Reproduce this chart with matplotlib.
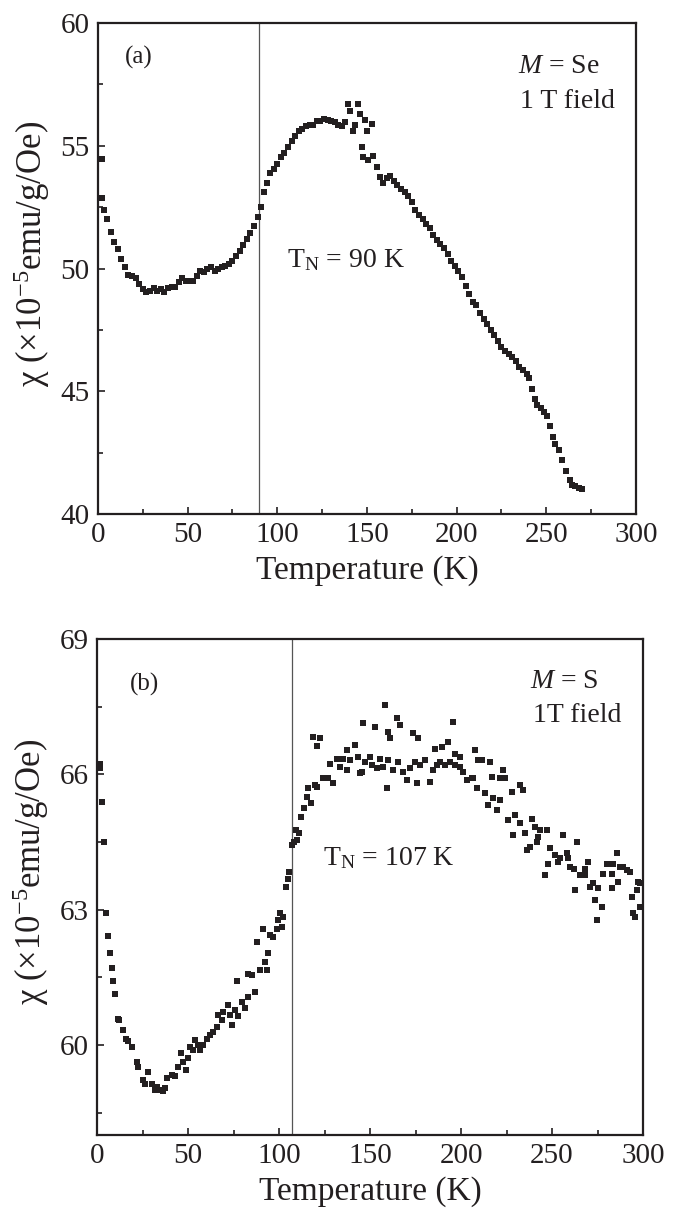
import matplotlib
matplotlib.use("Agg")
import matplotlib.pyplot as plt
from matplotlib.ticker import MultipleLocator

plt.rcParams['font.family'] = ['Liberation Serif', 'DejaVu Serif']
plt.rcParams['mathtext.fontset'] = 'custom'
plt.rcParams['mathtext.rm'] = 'Liberation Serif'
plt.rcParams['mathtext.it'] = 'Liberation Serif:italic'
plt.rcParams['mathtext.default'] = 'regular'

# panel (a): M = Se
temp_a = [2.0, 2.2, 3.5, 5, 7, 9, 11, 13, 15, 17, 19, 21, 23, 25, 27, 29, 31, 33, 35, 37,
          39, 41, 43, 45, 47, 49, 51, 53, 55, 57, 59, 61, 63, 65, 67, 69, 71, 73, 75, 77,
          79, 81, 83, 85, 87, 89, 91, 92.5, 94, 96, 98, 100, 102, 104, 106, 108, 110, 112,
          114, 116, 118, 120, 122, 124, 126, 128, 130, 132, 134, 136, 138, 139.5, 140.5,
          142, 143.5, 145, 146, 147, 148, 149, 150, 150.7, 152.6, 153.5, 155.4, 157.3, 159,
          161, 163, 165, 167, 169, 171, 173, 175, 177, 179, 181, 183, 185, 187, 189, 191,
          193, 195, 197, 199, 201, 203, 205, 207, 209, 211, 213, 215, 217, 219, 221, 223,
          225, 227, 229, 231, 233, 235, 237, 239, 240.5, 242, 243.5, 245, 247, 249, 250.5,
          252, 253.5, 255, 257, 259, 261, 263, 264.5, 266, 268, 270]
chi_a = [54.45, 52.87, 52.4, 52.0, 51.5, 51.1, 50.8, 50.4, 50.05, 49.75, 49.7, 49.6, 49.35,
         49.15, 49.05, 49.1, 49.2, 49.1, 49.15, 49.05, 49.2, 49.25, 49.25, 49.45, 49.6, 49.5,
         49.5, 49.5, 49.7, 49.9, 49.85, 50.0, 50.05, 49.9, 50.0, 50.05, 50.1, 50.2, 50.3,
         50.5, 50.7, 50.95, 51.2, 51.45, 51.75, 52.1, 52.5, 53.1, 53.5, 53.9, 54.05, 54.25,
         54.55, 54.7, 54.95, 55.2, 55.4, 55.6, 55.7, 55.8, 55.85, 55.85, 56.0, 56.0, 56.1,
         56.05, 56.0, 55.95, 55.85, 55.8, 55.95, 56.7, 56.4, 55.6, 55.85, 56.7, 56.3, 54.95,
         54.55, 56.05, 55.6, 54.4, 55.9, 54.6, 54.15, 53.74, 53.5, 53.7, 53.75, 53.55, 53.4,
         53.25, 53.1, 52.95, 52.7, 52.4, 52.2, 52.0, 51.8, 51.65, 51.35, 51.15, 51.0, 50.85,
         50.6, 50.3, 50.1, 49.9, 49.65, 49.3, 48.95, 48.65, 48.5, 48.2, 47.95, 47.75, 47.5,
         47.3, 47.05, 46.8, 46.65, 46.5, 46.4, 46.25, 46.0, 45.85, 45.7, 45.55, 45.1, 44.7,
         44.45, 44.3, 44.15, 44.0, 43.6, 43.15, 42.85, 42.6, 42.2, 41.75, 41.4, 41.2, 41.15,
         41.05, 41.0]

# panel (b): M = S
temp_b = [1.6, 1.8, 2.9, 4.0, 4.8, 6.2, 7.1, 8.1, 9.0, 9.9, 11.7, 12.3, 14.1, 15.8, 17.2,
          19.4, 21.8, 22.7, 25.4, 26.4, 28.2, 30.0, 31.9, 32.8, 34.6, 36.0, 37.4, 38.3, 41.0,
          42.9, 44.7, 46.2, 47.4, 48.7, 49.8, 51.1, 52.9, 53.8, 55.7, 56.6, 58.4, 60.3, 62.1,
          63.9, 65.8, 66.7, 68.5, 69.4, 72.2, 73.1, 74.0, 75.8, 77.1, 77.6, 79.5, 81.3, 83.1,
          83.1, 85.0, 86.8, 88.1, 89.6, 91.0, 92.3, 93.2, 94.1, 95.1, 96.9, 98.7, 99.6, 100.5,
          101.5, 102.4, 103.8, 104.8, 105.7, 107.0, 108.2, 109.3, 110.0, 111.0, 112.1, 113.9,
          115.2, 116.1, 117.6, 118.8, 119.8, 120.7, 121.0, 122.5, 124.3, 127.1, 127.9, 129.8,
          131.7, 133.5, 135.3, 137.2, 137.2, 139.0, 141.8, 143.6, 144.5, 145.4, 146.3, 147.3,
          150.0, 151.0, 152.7, 153.7, 155.5, 157.3, 158.2, 159.2, 160.0, 160.0, 161.0, 162.8,
          164.7, 165.6, 166.5, 168.3, 170.2, 172.0, 173.8, 174.7, 175.7, 176.5, 177.5, 180.2,
          183.0, 184.8, 185.7, 186.6, 188.5, 189.4, 191.2, 193.0, 194.0, 195.8, 196.7, 196.7,
          199.5, 199.5, 201.3, 203.1, 205.9, 206.8, 207.7, 208.6, 209.5, 211.3, 213.2, 215.0,
          215.9, 216.8, 217.8, 219.6, 221.4, 221.4, 223.3, 224.2, 226.0, 227.8, 228.7, 229.7,
          232.4, 232.4, 234.3, 235.2, 236.1, 237.9, 238.8, 240.7, 241.6, 242.5, 243.4, 246.2,
          247.1, 248.0, 248.9, 251.6, 253.5, 254.4, 256.2, 258.1, 259.0, 259.9, 261.9, 262.6,
          263.6, 265.4, 268.1, 268.1, 270.0, 270.9, 272.7, 273.6, 274.5, 275.5, 277.3, 278.2,
          280.1, 282.8, 282.8, 283.7, 285.5, 286.4, 287.4, 289.2, 291.0, 292.9, 293.7, 294.7,
          295.6, 296.5, 297.4, 298.4, 298.4]
chi_b = [66.24, 66.13, 65.38, 64.49, 62.92, 62.41, 62.03, 61.7, 61.42, 61.12, 60.57, 60.55,
         60.33, 60.14, 60.09, 59.96, 59.63, 59.52, 59.22, 59.14, 59.4, 59.14, 59.0, 59.07,
         59.0, 58.98, 59.04, 59.26, 59.33, 59.3, 59.52, 59.83, 59.63, 59.44, 59.7, 59.96,
         59.89, 60.11, 60.0, 59.89, 60.0, 60.14, 60.22, 60.29, 60.4, 60.66, 60.55, 60.74,
         60.88, 60.66, 60.44, 60.77, 61.42, 60.63, 60.96, 60.81, 61.07, 61.57, 61.55, 61.18,
         62.29, 61.66, 62.58, 61.84, 61.66, 62.03, 62.44, 62.4, 62.58, 62.77, 62.92, 62.62,
         62.84, 63.51, 63.69, 63.84, 64.43, 64.51, 64.77, 64.54, 64.71, 65.06, 65.25, 65.5,
         65.69, 65.36, 66.83, 65.76, 65.73, 66.63, 66.8, 65.91, 65.91, 66.24, 65.8, 66.35,
         66.17, 66.35, 66.09, 66.54, 66.32, 66.65, 66.39, 66.02, 66.06, 67.13, 66.28, 66.39,
         66.2, 67.06, 66.13, 66.35, 66.17, 67.54, 65.69, 66.32, 66.95, 66.8, 66.09, 67.24,
         66.28, 67.09, 66.06, 65.87, 66.13, 66.91, 66.28, 65.8, 66.8, 66.2, 66.32, 65.84,
         66.09, 66.57, 66.2, 66.28, 66.61, 66.2, 66.72, 66.28, 67.17, 66.2, 66.46, 66.17,
         66.39, 66.06, 65.87, 65.91, 65.91, 66.54, 65.69, 66.32, 66.32, 65.58, 65.32, 66.28,
         65.95, 65.47, 65.2, 65.43, 65.91, 66.1, 65.91, 64.99, 65.61, 64.65, 65.1, 65.76,
         64.91, 65.65, 64.69, 64.32, 64.39, 65.02, 64.84, 64.51, 64.62, 64.77, 63.76, 64.77,
         64.02, 64.36, 64.21, 64.06, 64.14, 64.65, 64.25, 64.14, 63.95, 63.91, 63.43, 64.51,
         63.76, 63.76, 63.91, 64.06, 63.51, 63.58, 63.21, 62.78, 63.47, 63.06, 63.8, 64.02,
         63.8, 63.47, 64.02, 64.25, 63.62, 63.95, 63.95, 63.87, 63.84, 63.29, 62.92, 62.84,
         63.43, 63.62, 63.06, 63.58]

t_neel = [90, 107]
ylims = [(40, 60), (58, 69)]
panel_tags = ["(a)", "(b)"]
sample_text = ["$\\it{M}$ = Se", "$\\it{M}$ = S"]
field_text = ["1 T field", "1T field"]

ink = '#231f20'

fig = plt.figure(figsize=(6.79, 12.18), dpi=100)
ax_a = fig.add_axes([0.1443, 0.5780, 0.7923, 0.4031])
ax_b = fig.add_axes([0.1429, 0.0681, 0.8041, 0.4072])

panels = [(ax_a, temp_a, chi_a, 4.6), (ax_b, temp_b, chi_b, 4.3)]
text_pos = [
    # tag, sample, field, T_N label (axes fractions)
    [(0.050, 0.929), (0.781, 0.898), (0.784, 0.827), (0.351, 0.503)],
    [(0.060, 0.909), (0.793, 0.901), (0.799, 0.833), (0.414, 0.544)],
]

for i, (ax, tt, cc, msize) in enumerate(panels):
    ax.plot(tt, cc, 's', color=ink, ms=msize, mew=0)
    ax.axvline(t_neel[i], color='#555555', lw=0.9, zorder=0)
    ax.set_xlim(0, 300)
    ax.set_ylim(*ylims[i])
    ax.xaxis.set_major_locator(MultipleLocator(50))
    ax.xaxis.set_minor_locator(MultipleLocator(25))
    if i == 0:
        ax.yaxis.set_major_locator(MultipleLocator(5))
        ax.yaxis.set_minor_locator(MultipleLocator(2.5))
    else:
        ax.yaxis.set_major_locator(MultipleLocator(3))
        ax.yaxis.set_minor_locator(MultipleLocator(1.5))
    for s in ax.spines.values():
        s.set_linewidth(1.6)
        s.set_color(ink)
    ax.tick_params(which='both', direction='in', top=False, right=False,
                   labelsize=21, width=1.2, colors=ink, pad=6)
    ax.tick_params(which='major', length=5)
    ax.tick_params(which='minor', length=3.5)
    ax.set_xlabel("Temperature (K)", fontsize=24, labelpad=5, color=ink)
    ax.set_ylabel("χ (×10$^{-5}$emu/g/Oe)", fontsize=25, color=ink)
    ax.yaxis.set_label_coords(-0.085, 0.53)

    pos = text_pos[i]
    ax.text(*pos[0], panel_tags[i], transform=ax.transAxes, fontsize=18,
            va='center', ha='left', color=ink)
    ax.text(*pos[1], sample_text[i], transform=ax.transAxes, fontsize=20,
            va='baseline', ha='left', color=ink)
    ax.text(*pos[2], field_text[i], transform=ax.transAxes, fontsize=20,
            va='baseline', ha='left', color=ink)
    ax.text(*pos[3], "T$_{N}$ = %d K" % t_neel[i], transform=ax.transAxes,
            fontsize=20, va='baseline', ha='left', color=ink)

fig.savefig("out.png", dpi=100)
